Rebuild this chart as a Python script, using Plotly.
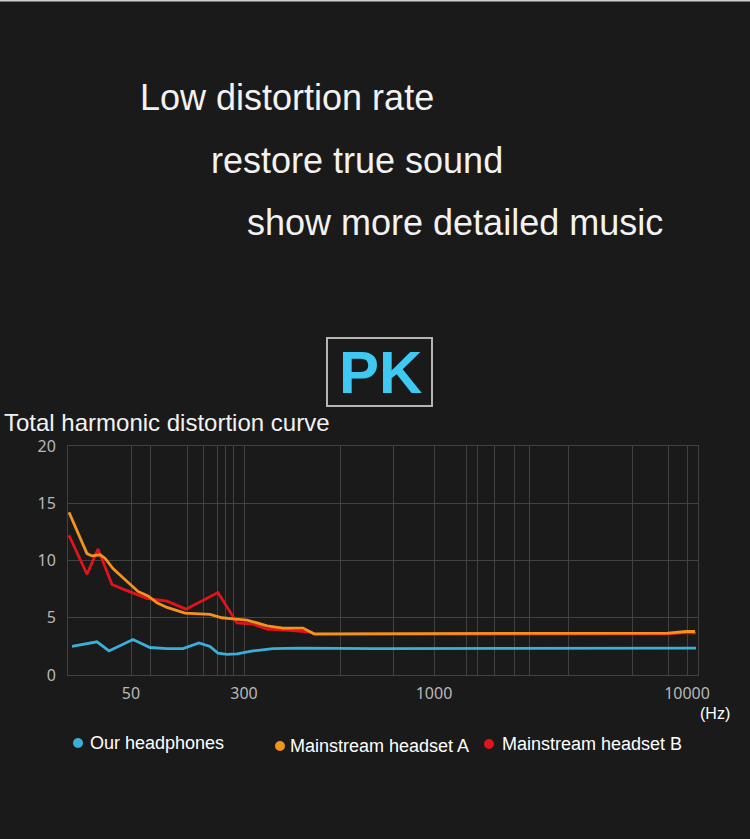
import plotly.graph_objects as go

# ---- data (x = position on the chart's custom frequency axis, 0..630) ----
series_names = ["Our headphones", "Mainstream headset A", "Mainstream headset B"]
series_colors = ["#3ab0d8", "#f3921e", "#e2131b"]

blue_x = [4, 29, 41, 65, 82, 99, 115, 131, 142, 150, 159, 169, 185, 205, 232, 307, 628]
blue_y = [2.5, 2.9, 2.1, 3.1, 2.4, 2.3, 2.3, 2.8, 2.5, 1.9, 1.8, 1.85, 2.1, 2.3, 2.35, 2.3, 2.35]

orange_x = [1, 19, 24, 32, 37, 45, 55, 70, 80, 89, 99, 117, 142, 154, 165, 179, 199, 215, 235, 246, 600, 618, 627]
orange_y = [14.2, 10.6, 10.4, 10.5, 10.2, 9.3, 8.5, 7.3, 6.9, 6.3, 5.9, 5.4, 5.3, 5.0, 4.9, 4.8, 4.3, 4.1, 4.1, 3.6, 3.65, 3.8, 3.8]

red_x = [1, 19, 30, 44, 55, 79, 99, 118, 150, 169, 185, 199, 222, 242, 247, 600, 618, 628]
red_y = [12.2, 8.8, 11.0, 7.9, 7.5, 6.7, 6.45, 5.75, 7.2, 4.55, 4.45, 4.0, 3.9, 3.75, 3.55, 3.6, 3.7, 3.65]

grid_positions = [63, 82, 119, 135, 149, 157, 165, 176, 272, 325, 366, 398, 409, 426, 446, 461, 500, 564, 600, 619]
tick_labels = {63: "50", 176: "300", 366: "1000", 619: "10000"}
y_ticks = [0, 5, 10, 15, 20]

W, H = 750, 839
L, R, T, B = 68, 698, 446, 675
BG = "#1a1a1a"
GRID = "#424242"


def px(x):
    return (x - L) / (R - L)


def py(y):
    return (B - y) / (B - T)


fig = go.Figure()
fig.add_trace(go.Scatter(x=blue_x, y=blue_y, mode="lines", name=series_names[0],
                         line=dict(color=series_colors[0], width=2.8), showlegend=False))
fig.add_trace(go.Scatter(x=red_x, y=red_y, mode="lines", name=series_names[2],
                         line=dict(color=series_colors[2], width=2.8), showlegend=False))
fig.add_trace(go.Scatter(x=orange_x, y=orange_y, mode="lines", name=series_names[1],
                         line=dict(color=series_colors[1], width=2.8), showlegend=False))

fig.update_layout(
    width=W, height=H,
    margin=dict(l=L, r=W - R, t=T, b=H - B),
    paper_bgcolor=BG, plot_bgcolor=BG,
    font=dict(family="Liberation Sans, Arial, sans-serif", color="#ffffff"),
    xaxis=dict(range=[0, 630], tickvals=grid_positions,
               ticktext=[tick_labels.get(v, "") for v in grid_positions],
               showgrid=True, gridcolor=GRID, gridwidth=1, zeroline=False,
               showline=True, linecolor=GRID, mirror=True, ticks="",
               ticklabelstandoff=4,
               tickfont=dict(family="Noto Sans", size=16, color="#b8b8b8")),
    yaxis=dict(range=[0, 20], tickvals=y_ticks, showgrid=True, gridcolor=GRID,
               zeroline=False, showline=True, linecolor=GRID, mirror=True, ticks="",
               ticklabelstandoff=8,
               tickfont=dict(family="Noto Sans", size=16, color="#b8b8b8")),
    showlegend=False,
)

# legend built from dots + labels (positions of the reference legend)
legend_dots = [(78, 743), (280, 746), (489, 744)]
legend_text_x = [88, 288, 500]
for name, color, (dx, dy), tx in zip(series_names, series_colors, legend_dots, legend_text_x):
    fig.add_shape(type="circle", xref="paper", yref="paper", xsizemode="pixel", ysizemode="pixel",
                  xanchor=px(dx), yanchor=py(dy), x0=-5, x1=5, y0=-5, y1=5,
                  fillcolor=color, line=dict(width=0))
    fig.add_annotation(text=name, x=px(tx), y=py(dy), xref="paper", yref="paper",
                       xanchor="left", yanchor="middle", showarrow=False,
                       font=dict(family="Liberation Sans, Arial, sans-serif", size=18, color="#ffffff"))

texts = [
    ("Low distortion rate", 138, 97, 36),
    ("restore true sound", 209, 160, 36),
    ("show more detailed music", 245, 222, 36),
    ("Total harmonic distortion curve", 2, 422, 24),
]
for t, x, y, s in texts:
    fig.add_annotation(text=t, x=px(x), y=py(y), xref="paper", yref="paper",
                       xanchor="left", yanchor="middle", showarrow=False,
                       font=dict(family="Liberation Sans, Arial, sans-serif", size=s, color="#f2f2f2"))

fig.add_annotation(text="(Hz)", x=px(698), y=py(713), xref="paper", yref="paper",
                   xanchor="left", yanchor="middle", showarrow=False,
                   font=dict(family="Liberation Sans, Arial, sans-serif", size=16, color="#ffffff"))

# PK badge
fig.add_shape(type="rect", xref="paper", yref="paper", x0=px(327), x1=px(432), y0=py(406), y1=py(338),
              line=dict(color="#b5b5b5", width=2), fillcolor=BG, layer="above")
fig.add_annotation(text="<b>PK</b>", x=px(380), y=py(372), xref="paper", yref="paper",
                   xanchor="center", yanchor="middle", showarrow=False,
                   font=dict(family="Liberation Sans, Arial, sans-serif", size=60, color="#3ec8f2"))

# thin light strip along the very top edge
fig.add_shape(type="rect", xref="paper", yref="paper", x0=px(0), x1=px(750), y0=py(1.5), y1=py(0),
              fillcolor="#cfcfcf", line=dict(width=0), layer="above")

fig.write_html("out.html")
